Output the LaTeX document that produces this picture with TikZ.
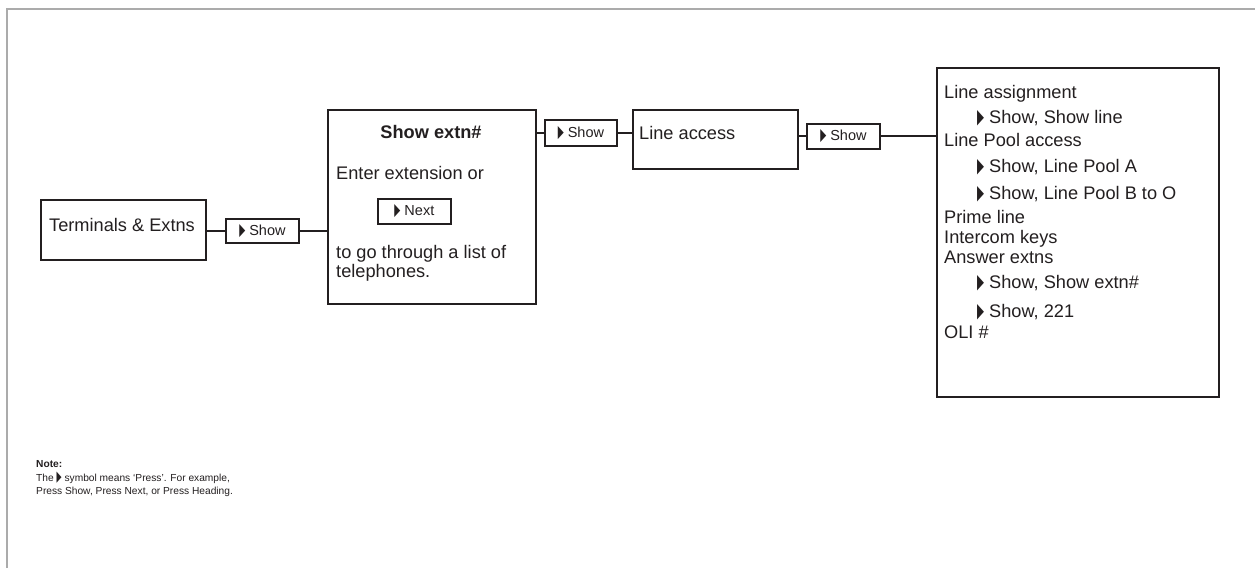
\documentclass[tikz,border=0pt]{standalone}
\usepackage{fontspec}
\setmainfont{Liberation Sans}
\newfontfamily\symfont{DejaVu Sans}
\newcommand\tri[2]{\resizebox{#1}{#2}{\symfont ▶}}
\definecolor{ink}{HTML}{231F20}
\definecolor{framegray}{HTML}{ABABAB}
\begin{document}
\begin{tikzpicture}[x=1pt,y=-1pt,
  box/.style={draw=ink, line width=2pt, inner sep=0pt, anchor=north west},
  btn/.style={draw=ink, line width=1.8pt, inner sep=0pt, anchor=north west,
    font=\fontsize{14.5}{16}\selectfont, text=ink},
  txt/.style={inner sep=0pt, anchor=base west, font=\fontsize{18.2}{20}\selectfont, text=ink},
  notetxt/.style={inner sep=0pt, anchor=base west, font=\fontsize{10.2}{13}\selectfont, text=ink},
  conn/.style={draw=ink, line width=1.9pt}]
\useasboundingbox (0,0) rectangle (1255,568);
\fill[white] (0,0) rectangle (1255,568);
\draw[framegray, line width=1.5pt] (7,568) -- (7,9) -- (1255,9);

% boxes
\node[box, minimum width=165pt, minimum height=60pt] (tb) at (40,199) {};
\node[box, minimum width=208pt, minimum height=194pt] (sx) at (327,109) {};
\node[box, minimum width=165pt, minimum height=59pt] (la) at (632,109) {};
\node[box, minimum width=282pt, minimum height=329pt] (rb) at (936,67) {};

% buttons
\node[btn, minimum width=73pt, minimum height=24pt] (b1) at (225,218) {\tri{6pt}{11pt}\hspace{4pt}Show};
\node[btn, minimum width=72pt, minimum height=26pt] (b2) at (544,119) {\tri{6pt}{11pt}\hspace{4pt}Show};
\node[btn, minimum width=73pt, minimum height=25pt] (b3) at (806,123) {\tri{6pt}{11pt}\hspace{4pt}Show};
\node[btn, minimum width=73pt, minimum height=25pt] (nx) at (377,198) {\tri{6pt}{11pt}\hspace{4pt}Next};

% connectors
\draw[conn] (tb.east |- b1.west) -- (b1.west);
\draw[conn] (b1.east) -- (b1.east -| sx.west);
\draw[conn] (sx.east |- b2.west) -- (b2.west);
\draw[conn] (b2.east) -- (b2.east -| la.west);
\draw[conn] (la.east |- b3.west) -- (b3.west);
\draw[conn] (b3.east) -- (b3.east -| rb.west);

% texts
\node[txt] (t1) at (49,231.5) {Terminals \& Extns};
\node[txt, anchor=base, font=\fontsize{18.2}{20}\selectfont\bfseries] (s1) at (431,138.5) {Show extn\#};
\node[txt] (s2) at (336,179.5) {Enter extension or};
\node[txt] (s3) at (336,258) {to go through a list of};
\node[txt] (s4) at (336,277) {telephones.};
\node[txt] (l1) at (639,139.5) {Line access};

\node[txt] (r1) at (944,98.5) {Line assignment};
\node[txt] (r2) at (977,123.5) {\tri{7pt}{13pt}\hspace{5pt}Show, Show line};
\node[txt] (r3) at (944,146) {Line Pool access};
\node[txt] (r4) at (977,172) {\tri{7pt}{13pt}\hspace{5pt}Show, Line Pool A};
\node[txt] (r5) at (977,199) {\tri{7pt}{13pt}\hspace{5pt}Show, Line Pool B to O};
\node[txt] (r6) at (944,223) {Prime line};
\node[txt] (r7) at (944,243.5) {Intercom keys};
\node[txt] (r8) at (944,263) {Answer extns};
\node[txt] (r9) at (977,288) {\tri{7pt}{13pt}\hspace{5pt}Show, Show extn\#};
\node[txt] (r10) at (977,317.5) {\tri{7pt}{13pt}\hspace{5pt}Show, 221};
\node[txt] (r11) at (944,338.5) {OLI \#};

% note
\node[notetxt, font=\fontsize{10.2}{13}\selectfont\bfseries] (n1) at (36,467) {Note:};
\node[notetxt] (n2) at (36,481.5) {The \tri{5pt}{9.5pt}\hspace{3pt}symbol means ‘Press’. For example,};
\node[notetxt] (n3) at (36,494.5) {Press Show, Press Next, or Press Heading.};
\end{tikzpicture}
\end{document}
